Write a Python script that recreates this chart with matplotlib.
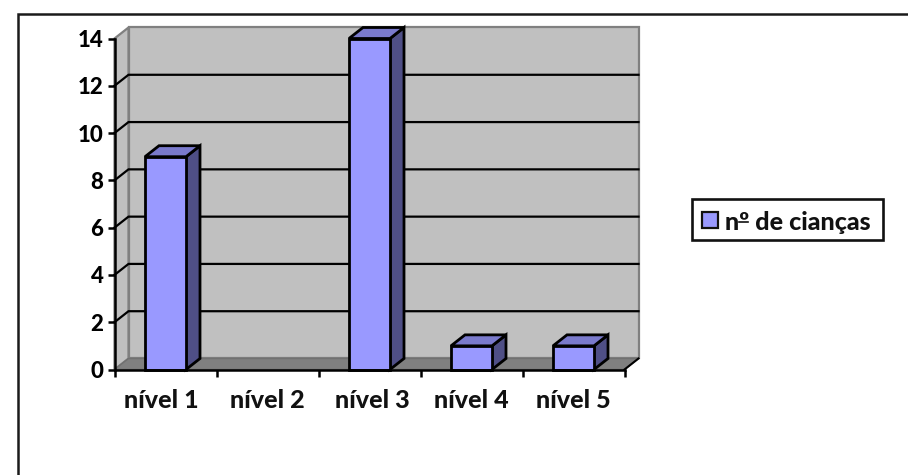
import matplotlib
matplotlib.use("Agg")
import matplotlib.pyplot as plt
from matplotlib.lines import Line2D
from matplotlib.patches import Polygon, Rectangle

categories = ["nível 1", "nível 2", "nível 3", "nível 4", "nível 5"]
counts = [9, 0, 14, 1, 1]
yticks = [0, 2, 4, 6, 8, 10, 12, 14]
series_name = "nº de cianças"

W, H = 908, 475
plt.rcParams["font.family"] = ["Lato", "DejaVu Sans"]
plt.rcParams["font.weight"] = "black"

fig = plt.figure(figsize=(W / 100, H / 100), dpi=100)

# outer frame is only cropped top and left lines
fig.add_artist(Line2D([18 / W, 18 / W, 1], [0, 1 - 14 / H, 1 - 14 / H], color="#1a1a1a",
                      lw=1.8, solid_joinstyle="miter", transform=fig.transFigure))

# front plane of the fake 3d box
ax = fig.add_axes([114.5 / W, 1 - 369.5 / H, 510 / W, 331 / H])
ax.set_xlim(0, 5)
ax.set_ylim(0, 14)
ax.patch.set_visible(False)
for s in ["top", "right"]:
    ax.spines[s].set_visible(False)
for s in ["left", "bottom"]:
    ax.spines[s].set_linewidth(1.8)
    ax.spines[s].set_zorder(6)

dx = 14 / 102   # depth in x, category units
dy = 11 / 23.64  # depth in y, value units

# walls and floor
ax.add_patch(Polygon([(dx, dy), (5 + dx, dy), (5 + dx, 14 + dy), (dx, 14 + dy)],
                     fc="#C0C0C0", ec="#808080", lw=1.6, clip_on=False, zorder=1))
ax.add_patch(Polygon([(0, 0), (dx, dy), (dx, 14 + dy), (0, 14)],
                     fc="#C0C0C0", ec="#808080", lw=1.6, clip_on=False, zorder=1))
ax.add_patch(Polygon([(0, 0), (5, 0), (5 + dx, dy), (dx, dy)],
                     fc="#808080", ec="#707070", lw=1, clip_on=False, zorder=2))

# gridlines, back wall plus the slanted bit on the side wall
for v in yticks[1:-1]:
    ax.plot([0, dx, 5 + dx], [v, v + dy, v + dy], color="black", lw=1.6,
            clip_on=False, zorder=3, solid_joinstyle="miter")
ax.plot([5, 5 + dx], [0, dy], color="black", lw=1.5, clip_on=False, zorder=3)

# bars
bw = 41 / 102
for i, v in enumerate(counts):
    if v == 0:
        continue
    x0 = i + 0.5 - bw / 2
    x1 = x0 + bw
    d = dict(ec="black", lw=2.0, clip_on=False, zorder=4, joinstyle="miter")
    ax.add_patch(Polygon([(x1, 0), (x1 + dx, dy), (x1 + dx, v + dy), (x1, v)],
                         fc="#4F4F86", **d))
    ax.add_patch(Polygon([(x0, v), (x1, v), (x1 + dx, v + dy), (x0 + dx, v + dy)],
                         fc="#7A7ACC", **d))
    ax.bar(i + 0.5, v, width=bw, color="#9999FF", edgecolor="black", linewidth=2.0,
           zorder=5, clip_on=False)

ax.set_yticks(yticks)
ax.set_xticks(range(6))
ax.set_xticklabels([])
ax.tick_params(axis="x", length=5, width=1.8, direction="out")
ax.tick_params(axis="y", length=5, width=1.8, direction="out", pad=3, labelsize=16)

# category labels sit a little unevenly in the original
label_x = [0.46, 1.5, 2.53, 3.5, 4.5]
for x, lab in zip(label_x, categories):
    ax.annotate(lab, (x, 0), xytext=(0, -31), xycoords="data", textcoords="offset pixels",
                ha="center", va="center", fontsize=18, fontweight="black", color="#111111",
                annotation_clip=False)

# legend box
fig.add_artist(Rectangle((692 / W, 1 - 240 / H), 191 / W, 41 / H, fc="white",
                         ec="#111111", lw=1.9, transform=fig.transFigure))
fig.add_artist(Rectangle((702 / W, 1 - 228 / H), 16 / W, 16 / H, fc="#9999FF",
                         ec="#111111", lw=1.6, transform=fig.transFigure))
fig.text(725 / W, 1 - 223 / H, series_name, fontsize=18, fontweight="black",
         va="center", ha="left", color="#111111")
# the ordinal sign has an underline in the original
fig.add_artist(Line2D([739 / W, 748 / W], [1 - 222 / H, 1 - 222 / H], color="#111111", lw=1.2,
                      transform=fig.transFigure))

fig.savefig("out.png", dpi=100)
